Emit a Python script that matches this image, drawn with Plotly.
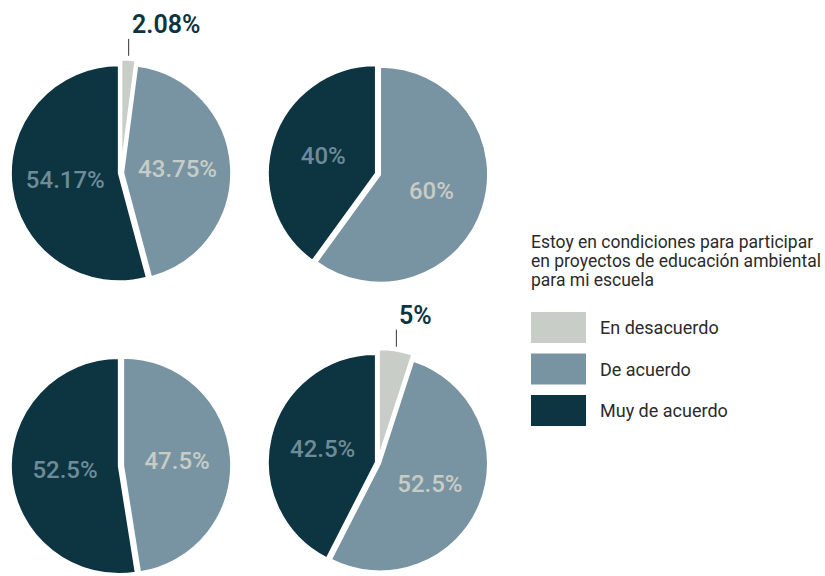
import math
import plotly.graph_objects as go

# Survey answers, one pie per group (percent of respondents)
categories = ["En desacuerdo", "De acuerdo", "Muy de acuerdo"]
pie_1 = [2.08, 43.75, 54.17]
pie_2 = [0, 60, 40]
pie_3 = [0, 47.5, 52.5]
pie_4 = [5, 52.5, 42.5]
legend_title = [
    "Estoy en condiciones para participar",
    "en proyectos de educación ambiental",
    "para mi escuela",
]

colors = ["#c8cdc8", "#7894a2", "#0c3441"]
inside_text_colors = ["#0c3441", "#c8ccc6", "#6e8b98"]
pulls = [0.05, 0.02, 0.02]

W, H = 825, 576
R = 108
FONT = "Roboto, Arial, sans-serif"
DARK = "#0c3441"

# pie centres in pixels (from the top-left corner)
centres = [(121, 173), (378, 174), (121, 470), (378, 470)]
series = [pie_1, pie_2, pie_3, pie_4]

fig = go.Figure()


def px(x):
    return x / W


def py(y):
    return 1 - y / H


for vals, (cx, cy) in zip(series, centres):
    idx = [i for i, v in enumerate(vals) if v > 0]
    trace_pulls = [pulls[i] for i in idx]
    # plotly shrinks the radius by the largest pull, so size the box to keep R
    half = R * (1 + max(trace_pulls))
    ybot = max(H - cy, half)
    cy = H - ybot
    fig.add_trace(go.Pie(
        labels=[categories[i] for i in idx],
        values=[vals[i] for i in idx],
        marker=dict(colors=[colors[i] for i in idx], line=dict(color="white", width=2)),
        pull=trace_pulls,
        sort=False,
        direction="clockwise",
        rotation=0,
        texttemplate="%{value}%",
        textposition=["none" if i == 0 else "inside" for i in idx],
        insidetextorientation="horizontal",
        insidetextfont=dict(family=FONT, size=24, weight=500,
                            color=[inside_text_colors[i] for i in idx]),
        domain=dict(x=[(cx - half) / W, (cx + half) / W],
                    y=[(ybot - half) / H, (ybot + half) / H]),
        hoverinfo="label+value",
        showlegend=False,
    ))

    # small slice: value label above a short vertical leader line
    if vals[0] > 0:
        ang = math.radians(vals[0] / 100 * 360 / 2)
        rr = R * (1 + pulls[0]) + 4
        lx_ = cx + rr * math.sin(ang)
        ytip = cy - rr * math.cos(ang)
        fig.add_shape(type="line", xref="paper", yref="paper",
                      x0=px(lx_), x1=px(lx_), y0=py(ytip), y1=py(ytip - 17),
                      line=dict(color="#333333", width=1))
        fig.add_annotation(
            x=px(lx_ + 1), y=py(ytip - 15), xref="paper", yref="paper",
            xanchor="left", yanchor="bottom", showarrow=False,
            text=f"{vals[0]:g}%",
            font=dict(family=FONT, size=25, weight=600, color=DARK),
        )

# legend block on the right
lx, ly = 531, 242
for k, line in enumerate(legend_title):
    fig.add_annotation(
        x=px(lx - 2), y=py(ly + k * 19.2), xref="paper", yref="paper",
        xanchor="left", yanchor="middle", align="left", showarrow=False,
        text=line, font=dict(family=FONT, size=17.5, color="#2b2b2b"),
    )
sw_w, sw_h, gap, top0 = 55, 31, 41.5, 312
for k, (cat, col) in enumerate(zip(categories, colors)):
    y0 = top0 + k * gap
    fig.add_shape(type="rect", xref="paper", yref="paper",
                  x0=px(lx), x1=px(lx + sw_w),
                  y0=py(y0 + sw_h), y1=py(y0),
                  fillcolor=col, line=dict(width=0))
    fig.add_annotation(
        x=px(lx + 67), y=py(y0 + sw_h / 2), xref="paper", yref="paper",
        xanchor="left", yanchor="middle", showarrow=False,
        text=cat, font=dict(family=FONT, size=18, color="#2b2b2b"),
    )

fig.update_layout(
    width=W, height=H,
    margin=dict(l=0, r=0, t=0, b=0),
    paper_bgcolor="white", plot_bgcolor="white",
    font=dict(family=FONT),
    showlegend=False,
)

fig.write_html("out.html")
